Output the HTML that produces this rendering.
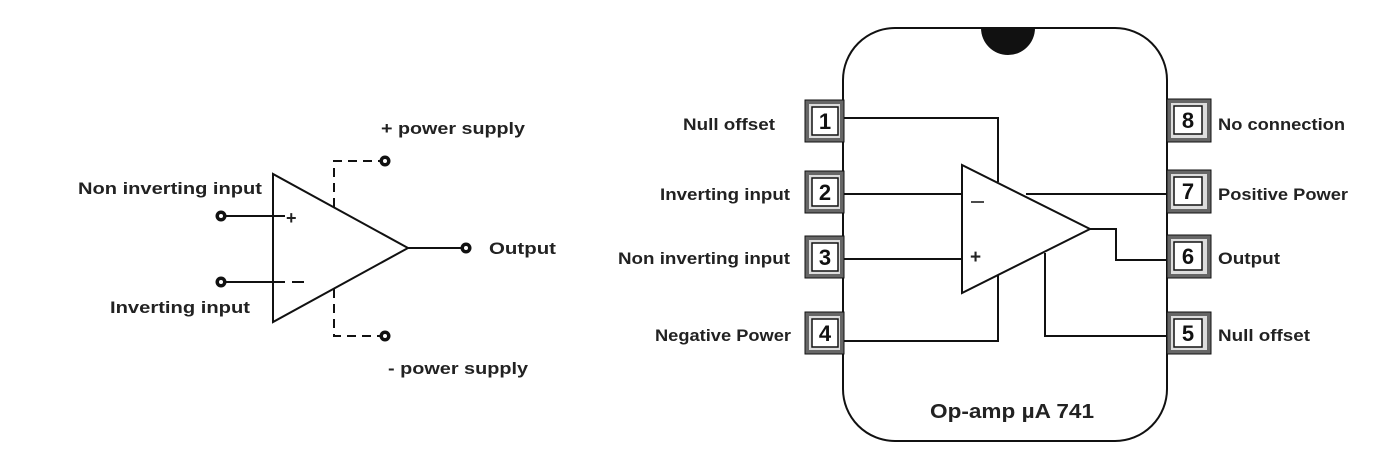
<!DOCTYPE html>
<html><head><style>
body{margin:0;background:#fff;}
svg{display:block;}
text{font-family:"Liberation Sans",sans-serif;font-size:17px;fill:#222;font-weight:bold;}
.n{font-size:22px;font-weight:bold;fill:#111;}
</style></head><body>
<svg width="1386" height="454" viewBox="0 0 1386 454" xmlns="http://www.w3.org/2000/svg">
<g stroke="#111" stroke-width="2" fill="none">
 <polygon points="273,174 273,322 408,248"/>
 <line x1="221" y1="216" x2="285" y2="216"/>
 <line x1="221" y1="282" x2="285" y2="282"/>
 <line x1="292" y1="282" x2="304" y2="282"/>
 <line x1="408" y1="248" x2="466" y2="248"/>
 <polyline points="334,207 334,161 385,161" stroke-dasharray="9,6"/>
 <polyline points="334,289 334,336 385,336" stroke-dasharray="9,6"/>
</g>
<g fill="#111">
 <circle cx="221" cy="216" r="5.5"/><circle cx="221" cy="282" r="5.5"/>
 <circle cx="466" cy="248" r="5.5"/><circle cx="385" cy="161" r="5.5"/><circle cx="385" cy="336" r="5.5"/>
</g>
<g fill="#fff"><circle cx="221" cy="216" r="2"/><circle cx="221" cy="282" r="2"/><circle cx="466" cy="248" r="2"/><circle cx="385" cy="161" r="2"/><circle cx="385" cy="336" r="2"/></g>
<text x="286" y="224" style="font-size:18px">+</text>
<text x="78" y="194" textLength="184" lengthAdjust="spacingAndGlyphs">Non inverting input</text>
<text x="110" y="313" textLength="140" lengthAdjust="spacingAndGlyphs">Inverting input</text>
<text x="381" y="134" textLength="144" lengthAdjust="spacingAndGlyphs">+ power supply</text>
<text x="388" y="374" textLength="140" lengthAdjust="spacingAndGlyphs">- power supply</text>
<text x="489" y="254" textLength="67" lengthAdjust="spacingAndGlyphs">Output</text>

<!-- chip -->
<rect x="843" y="28" width="324" height="413" rx="52" ry="52" fill="none" stroke="#111" stroke-width="2"/>
<path d="M981,28 A27,27 0 0 0 1035,28 Z" fill="#111"/>
<g stroke="#111" stroke-width="2" fill="none">
 <polygon points="962,165 962,293 1090,229"/>
 <polyline points="843,118 998,118 998,182"/>
 <line x1="843" y1="194" x2="962" y2="194"/>
 <line x1="843" y1="259" x2="962" y2="259"/>
 <polyline points="843,341 998,341 998,275"/>
 <line x1="1026" y1="194" x2="1167" y2="194"/>
 <polyline points="1090,229 1116,229 1116,260 1167,260"/>
 <polyline points="1045,253 1045,336 1167,336"/>
 <line x1="971" y1="202" x2="984" y2="202" stroke-width="1.5"/>
</g>
<text x="970" y="263" style="font-size:19px">+</text>
<g>
 <g transform="translate(805,100)"><rect x="0" y="0" width="39" height="42" fill="#666" stroke="#111"/><rect x="4" y="4" width="31" height="34" fill="#ddd"/><rect x="7" y="7" width="26" height="28" fill="#fff" stroke="#111" stroke-width="1.5"/><text class="n" x="20" y="29" text-anchor="middle">1</text></g>
 <g transform="translate(805,171)"><rect x="0" y="0" width="39" height="42" fill="#666" stroke="#111"/><rect x="4" y="4" width="31" height="34" fill="#ddd"/><rect x="7" y="7" width="26" height="28" fill="#fff" stroke="#111" stroke-width="1.5"/><text class="n" x="20" y="29" text-anchor="middle">2</text></g>
 <g transform="translate(805,236)"><rect x="0" y="0" width="39" height="42" fill="#666" stroke="#111"/><rect x="4" y="4" width="31" height="34" fill="#ddd"/><rect x="7" y="7" width="26" height="28" fill="#fff" stroke="#111" stroke-width="1.5"/><text class="n" x="20" y="29" text-anchor="middle">3</text></g>
 <g transform="translate(805,312)"><rect x="0" y="0" width="39" height="42" fill="#666" stroke="#111"/><rect x="4" y="4" width="31" height="34" fill="#ddd"/><rect x="7" y="7" width="26" height="28" fill="#fff" stroke="#111" stroke-width="1.5"/><text class="n" x="20" y="29" text-anchor="middle">4</text></g>
 <g transform="translate(1167,99)"><rect x="0" y="0" width="44" height="43" fill="#666" stroke="#111"/><rect x="4" y="4" width="36" height="35" fill="#ddd"/><rect x="7" y="7" width="28" height="28" fill="#fff" stroke="#111" stroke-width="1.5"/><text class="n" x="21" y="29" text-anchor="middle">8</text></g>
 <g transform="translate(1167,170)"><rect x="0" y="0" width="44" height="43" fill="#666" stroke="#111"/><rect x="4" y="4" width="36" height="35" fill="#ddd"/><rect x="7" y="7" width="28" height="28" fill="#fff" stroke="#111" stroke-width="1.5"/><text class="n" x="21" y="29" text-anchor="middle">7</text></g>
 <g transform="translate(1167,235)"><rect x="0" y="0" width="44" height="43" fill="#666" stroke="#111"/><rect x="4" y="4" width="36" height="35" fill="#ddd"/><rect x="7" y="7" width="28" height="28" fill="#fff" stroke="#111" stroke-width="1.5"/><text class="n" x="21" y="29" text-anchor="middle">6</text></g>
 <g transform="translate(1167,312)"><rect x="0" y="0" width="44" height="42" fill="#666" stroke="#111"/><rect x="4" y="4" width="36" height="34" fill="#ddd"/><rect x="7" y="7" width="28" height="28" fill="#fff" stroke="#111" stroke-width="1.5"/><text class="n" x="21" y="29" text-anchor="middle">5</text></g>
</g>
<text x="683" y="130" textLength="92" lengthAdjust="spacingAndGlyphs">Null offset</text>
<text x="660" y="200" textLength="130" lengthAdjust="spacingAndGlyphs">Inverting input</text>
<text x="618" y="264" textLength="172" lengthAdjust="spacingAndGlyphs">Non inverting input</text>
<text x="655" y="341" textLength="136" lengthAdjust="spacingAndGlyphs">Negative Power</text>
<text x="1218" y="130" textLength="127" lengthAdjust="spacingAndGlyphs">No connection</text>
<text x="1218" y="200" textLength="130" lengthAdjust="spacingAndGlyphs">Positive Power</text>
<text x="1218" y="264" textLength="62" lengthAdjust="spacingAndGlyphs">Output</text>
<text x="1218" y="341" textLength="92" lengthAdjust="spacingAndGlyphs">Null offset</text>
<text x="930" y="418" style="font-size:20px" textLength="164" lengthAdjust="spacingAndGlyphs">Op-amp  µA 741</text>
</svg>
</body></html>
